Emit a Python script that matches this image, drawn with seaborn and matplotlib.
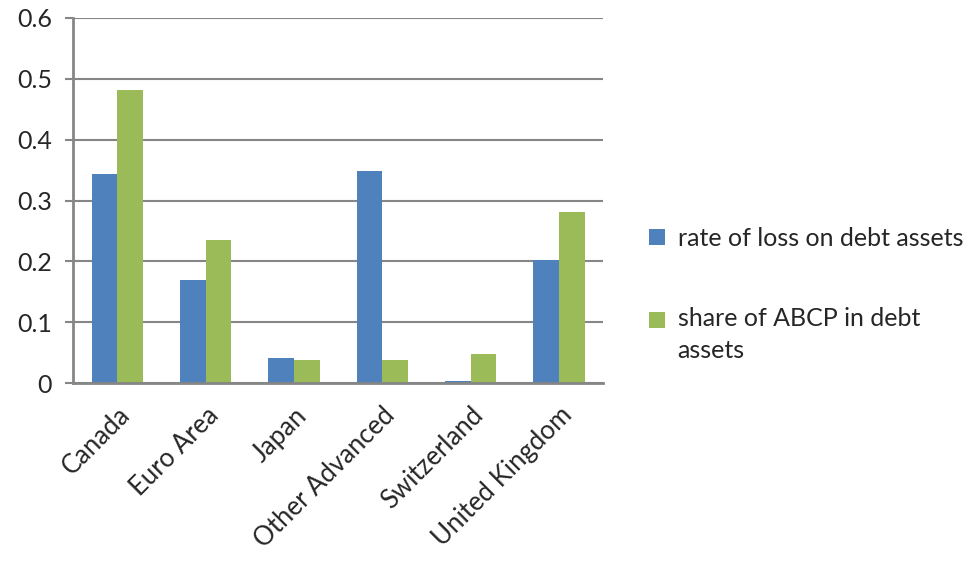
import matplotlib
matplotlib.use('Agg')
import matplotlib.pyplot as plt
import pandas as pd
import seaborn as sns

# Data
countries = ['Canada', 'Euro Area', 'Japan', 'Other Advanced', 'Switzerland', 'United Kingdom']
loss_rate = [0.344, 0.170, 0.042, 0.348, 0.004, 0.202]
abcp_share = [0.481, 0.236, 0.038, 0.038, 0.048, 0.282]
series_names = ['rate of loss on debt assets', 'share of ABCP in debt\nassets']
y_ticks = [0, 0.1, 0.2, 0.3, 0.4, 0.5, 0.6]

df = pd.DataFrame({
    'country': countries * 2,
    'value': loss_rate + abcp_share,
    'series': [series_names[0]] * len(countries) + [series_names[1]] * len(countries),
})

sns.set_style('white')
plt.rcParams['font.family'] = ['Lato', 'DejaVu Sans']
fs = 18

fig = plt.figure(figsize=(9.71, 5.61), dpi=100)
ax = fig.add_axes([0.0752, 0.317, 0.546, 0.651])

sns.barplot(data=df, x='country', y='value', hue='series',
            palette=['#4F81BD', '#9BBB59'], width=0.58, saturation=1,
            edgecolor='none', ax=ax)

grid_col = '#868686'
ax.set_ylim(0, 0.6)
ax.set_yticks(y_ticks)
ax.set_yticklabels(['0' if v == 0 else f'{v:.1f}' for v in y_ticks], fontsize=fs)
ax.set_xlim(-0.5, len(countries) - 0.5)
ax.yaxis.grid(True, color=grid_col, linewidth=1.5)
ax.set_axisbelow(True)

# category labels at centres, tick marks at the boundaries
ax.set_xticks(range(len(countries)))
ax.set_xticklabels(countries, rotation=45, ha='right', rotation_mode='anchor', fontsize=18.5)
ax.set_xticks([i - 0.5 for i in range(len(countries) + 1)], minor=True)
ax.tick_params(axis='x', which='major', length=0, pad=14)
ax.tick_params(axis='x', which='minor', length=6, width=1.5, color=grid_col, direction='out')
ax.tick_params(axis='y', length=6, width=1.5, color=grid_col, direction='out', pad=9, left=True)

for side in ['top', 'right']:
    ax.spines[side].set_visible(False)
for side in ['left', 'bottom']:
    ax.spines[side].set_color(grid_col)
    ax.spines[side].set_linewidth(2)

ax.set_xlabel('')
ax.set_ylabel('')

leg = ax.legend(loc='upper left', bbox_to_anchor=(0.645, 0.636), bbox_transform=fig.transFigure,
                frameon=False, fontsize=fs, handlelength=0.65, handleheight=0.65,
                handletextpad=0.5, labelspacing=2.3)
for t in leg.get_texts():
    t.set_linespacing(1.45)
# keep the square level with the first line of the wrapped label
h = leg.legend_handles[1]
h.set_y(h.get_y() + 11)

fig.savefig('out.png', dpi=100)
